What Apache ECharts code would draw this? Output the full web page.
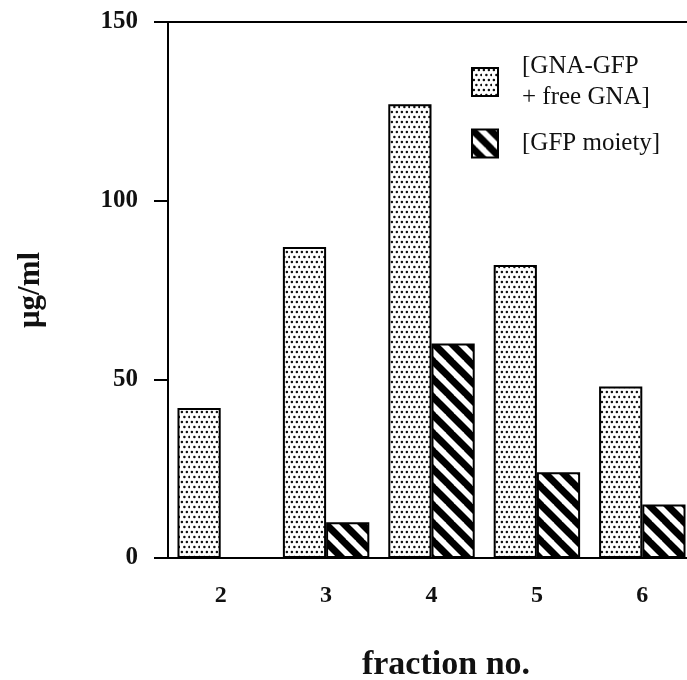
<!DOCTYPE html>
<html>
<head>
<meta charset="utf-8">
<script src="https://cdn.jsdelivr.net/npm/echarts@6/dist/echarts.min.js"></script>
<style>
html,body{margin:0;padding:0;background:#fff;}
#chart{width:687px;height:680px;}
</style>
</head>
<body>
<div id="chart"></div>
<script>
const categories = ['2', '3', '4', '5', '6'];
const gnaGfpFreeGna = [42, 87, 127, 82, 48];
const gfpMoiety = [0, 10, 60, 24, 15];
const seriesNames = ['[GNA-GFP\n+ free GNA]', '[GFP moiety]'];
const yTicks = [0, 50, 100, 150];

function dotPattern() {
  const c = document.createElement('canvas');
  c.width = 10; c.height = 10;
  const g = c.getContext('2d');
  g.fillStyle = '#fff'; g.fillRect(0, 0, 10, 10);
  g.fillStyle = '#111';
  [[1,1],[6,1],[3.5,6],[8.5,6]].forEach(p => { g.beginPath(); g.arc(p[0] + 0.9, p[1] + 0.9, 1.25, 0, Math.PI * 2); g.fill(); });
  return c;
}
function hatchPattern() {
  const s = 18;
  const c = document.createElement('canvas');
  c.width = s; c.height = s;
  const g = c.getContext('2d');
  g.fillStyle = '#fff'; g.fillRect(0, 0, s, s);
  g.strokeStyle = '#000'; g.lineWidth = 7;
  for (let k = -1; k <= 1; k++) {
    g.beginPath();
    g.moveTo(k * s - 2, -2);
    g.lineTo(k * s + s + 2, s + 2);
    g.stroke();
  }
  return c;
}

const font = '"Liberation Serif", "Times New Roman", serif';
const chart = echarts.init(document.getElementById('chart'), null, {renderer: 'canvas'});
chart.setOption({
  backgroundColor: '#fff',
  animation: false,
  grid: {left: 168, width: 527, top: 22, height: 536, containLabel: false, outerBoundsMode: 'none',
         show: true, borderColor: '#000', borderWidth: 2, backgroundColor: 'transparent'},
  legend: {
    orient: 'vertical', left: 466, top: 46, itemWidth: 26, itemHeight: 28, itemGap: 15,
    icon: 'rect',
    textStyle: {fontFamily: font, fontSize: 25, color: '#111', lineHeight: 31, padding: [0, 0, 0, 19]},
    data: seriesNames
  },
  xAxis: {
    type: 'category', data: categories,
    name: 'fraction no.', nameLocation: 'middle', nameGap: 90,
    nameTextStyle: {fontFamily: font, fontWeight: 'bold', fontSize: 34, color: '#111', padding: [0, 0, 0, 29]},
    axisLine: {lineStyle: {color: '#000', width: 2}},
    axisTick: {alignWithLabel: true, length: 14, lineStyle: {color: '#000', width: 2}},
    axisLabel: {fontFamily: font, fontWeight: 'bold', fontSize: 24, color: '#111', margin: 26}
  },
  yAxis: {
    type: 'value', min: 0, max: 150, interval: 50,
    name: 'μg/ml', nameLocation: 'middle', nameGap: 122, nameRotate: 90,
    nameTextStyle: {fontFamily: font, fontWeight: 'bold', fontSize: 31, color: '#111'},
    axisLine: {show: true, lineStyle: {color: '#000', width: 2}},
    axisTick: {show: true, length: 14, lineStyle: {color: '#000', width: 2}},
    splitLine: {show: false},
    axisLabel: {fontFamily: font, fontWeight: 'bold', fontSize: 25, color: '#111', margin: 30,
      formatter: v => yTicks.indexOf(v) >= 0 ? String(v) : ''}
  },
  series: [
    {name: seriesNames[0], type: 'bar', data: gnaGfpFreeGna, barGap: '0%', barCategoryGap: '18%',
     itemStyle: {color: {image: dotPattern(), repeat: 'repeat'}, borderColor: '#000', borderWidth: 2}},
    {name: seriesNames[1], type: 'bar', data: gfpMoiety,
     itemStyle: {color: {image: hatchPattern(), repeat: 'repeat'}, borderColor: '#000', borderWidth: 2}}
  ]
});
</script>
</body>
</html>
